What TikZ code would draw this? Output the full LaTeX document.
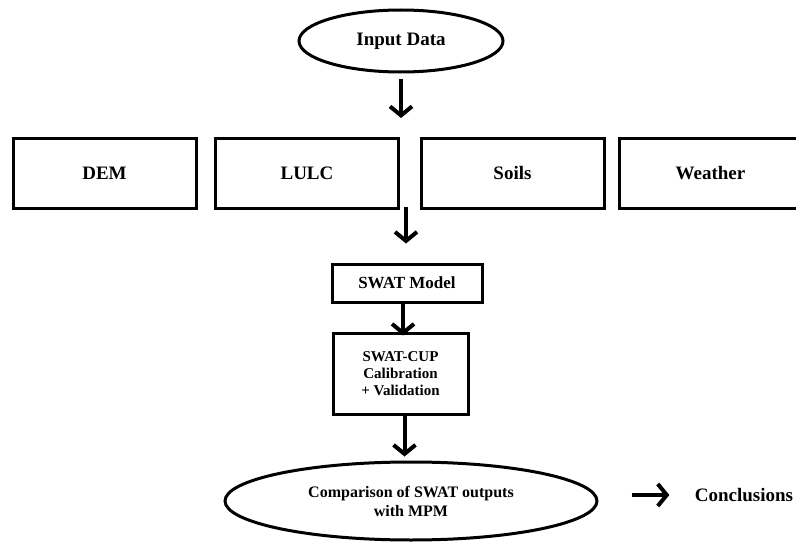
\documentclass[tikz,border=0pt]{standalone}
\usepackage{fontspec}
\setmainfont{Liberation Serif}
\usetikzlibrary{shapes.geometric,arrows.meta,positioning}

\begin{document}
\begin{tikzpicture}[x=1pt,y=-1pt,
    box/.style={draw,line width=3pt,minimum width=183pt,minimum height=70pt,
      font=\bfseries\fontsize{19}{22}\selectfont},
    oval/.style={draw,ellipse,line width=3pt,inner sep=0pt,align=center},
    arr/.style={line width=4pt,-{Straight Barb[length=9pt,width=22pt]}}]
    \useasboundingbox (0,0) rectangle (796,543);

    \node[oval,minimum width=204pt,minimum height=62pt,
      font=\bfseries\fontsize{19}{22}\selectfont] (input) at (401,41) {Input Data};

    % data layers
    \node[box] (dem) at (104.5,173) {DEM};
    \node[box] (lulc) at (307,173) {LULC};
    \node[box] (soils) at (512.5,173) {Soils};
    \node[box] (weather) at (710.5,173) {Weather};

    \node[draw,line width=3pt,minimum width=150pt,minimum height=38pt,
      font=\bfseries\fontsize{17}{20}\selectfont] (swat) at (407,283) {SWAT Model};

    \node[draw,line width=3pt,minimum width=135pt,minimum height=81pt,align=center,
      font=\bfseries\fontsize{15}{17}\selectfont] (cup) at (400.5,373.5)
      {SWAT-CUP\\Calibration\\+ Validation};

    \node[oval,minimum width=372pt,minimum height=78pt,
      font=\bfseries\fontsize{16}{19}\selectfont] (comp) at (411,501)
      {Comparison of SWAT outputs\\with MPM};

    \node[font=\bfseries\fontsize{19}{22}\selectfont] (concl) at (744,495) {Conclusions};

    \coordinate (rowin) at (401,118);
    \coordinate (rowout) at (406,207);

    \draw[arr] ([yshift=-6pt]input.south) -- (rowin);
    \draw[arr,shorten >=19pt] (rowout) -- (rowout |- swat.north);
    \draw[arr,shorten >=-4pt] ([xshift=-4pt]swat.south) -- ([xshift=-4pt]swat.south |- cup.north);
    \draw[arr,shorten >=4pt] ([xshift=4pt]cup.south) -- ([xshift=4pt]cup.south |- comp.north);
    \draw[arr,shorten <=33pt,shorten >=22pt] (comp.east |- concl.west) -- (concl.west);

  \end{tikzpicture}
\end{document}
